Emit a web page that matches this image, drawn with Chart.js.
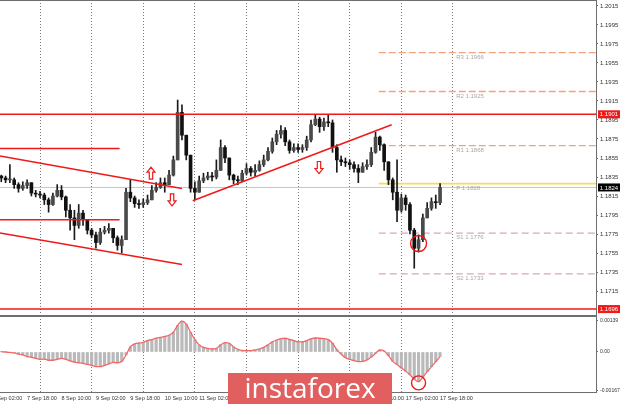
<!DOCTYPE html>
<html>
<head>
<meta charset="utf-8">
<script src="https://cdn.jsdelivr.net/npm/chart.js@4.4.0/dist/chart.umd.min.js"></script>
<style>
  html, body { margin: 0; padding: 0; background: #fff; }
  #wrap { position: relative; width: 620px; height: 404px; overflow: hidden; }
  #mainChart { position: absolute; left: 0; top: 0; }
  #oscChart { position: absolute; left: 0; top: 316px; }
  #logo {
    position: absolute; left: 228px; top: 373px; width: 164px; height: 31px;
    background: #e15f5f; color: #fff; text-align: center;
    font: 28px 'Open Sans', sans-serif; line-height: 29px;
  }
</style>
</head>
<body>
<div id="wrap">
  <canvas id="mainChart" width="620" height="316"></canvas>
  <canvas id="oscChart" width="620" height="88"></canvas>
  <div id="logo">instaforex</div>
</div>
<script>
// EUR/USD, 7-17 Sep, 2-hour bars
// x = trading hours counted from 8 Sep 00:00 (weekend removed)

const barHours = [];
for (let h = -18; h <= 186; h += 2) barHours.push(h);

const firstOpen = 1.1836;
const closes = [
  1.1834, 1.1832, 1.1832, 1.1827, 1.1823, 1.1826, 1.1829, 1.1818, 1.1817, 1.1816,
  1.1811, 1.1806, 1.1815, 1.1821, 1.1814, 1.1800, 1.1792, 1.1784, 1.1797, 1.1790,
  1.1779, 1.1774, 1.1766, 1.1777, 1.1779, 1.1781, 1.1771, 1.1763, 1.1769, 1.1819,
  1.1813, 1.1807, 1.1806, 1.1808, 1.1811, 1.1821, 1.1824, 1.1829, 1.1827, 1.1837,
  1.1853, 1.1903, 1.1879, 1.1858, 1.1823, 1.1819, 1.1831, 1.1834, 1.1836, 1.1835,
  1.1842, 1.1866, 1.1855, 1.1837, 1.1832, 1.1831, 1.1839, 1.1844, 1.1840, 1.1842,
  1.1848, 1.1853, 1.1862, 1.1872, 1.1880, 1.1884, 1.1872, 1.1863, 1.1866, 1.1864,
  1.1866, 1.1874, 1.1890, 1.1896, 1.1888, 1.1893, 1.1892, 1.1866, 1.1853, 1.1851,
  1.1850, 1.1848, 1.1844, 1.1840, 1.1846, 1.1848, 1.1861, 1.1877, 1.1869, 1.1851,
  1.1832, 1.1819, 1.1800, 1.1813, 1.1806, 1.1779, 1.1760, 1.1769, 1.1792, 1.1802,
  1.1809, 1.1808, 1.1824
];
const highs = [
  1.1837, 1.1836, 1.1848, 1.1834, 1.1829, 1.1830, 1.1832, 1.1829, 1.1821, 1.1820,
  1.1818, 1.1813, 1.1818, 1.1827, 1.1826, 1.1815, 1.1806, 1.1800, 1.1806, 1.1800,
  1.1790, 1.1781, 1.1777, 1.1781, 1.1783, 1.1786, 1.1781, 1.1773, 1.1773, 1.1823,
  1.1832, 1.1815, 1.1811, 1.1812, 1.1816, 1.1826, 1.1829, 1.1834, 1.1834, 1.1842,
  1.1857, 1.1916, 1.1911, 1.1879, 1.1858, 1.1830, 1.1836, 1.1839, 1.1840, 1.1840,
  1.1853, 1.1874, 1.1868, 1.1855, 1.1838, 1.1836, 1.1842, 1.1849, 1.1846, 1.1848,
  1.1852, 1.1858, 1.1866, 1.1876, 1.1884, 1.1889, 1.1887, 1.1874, 1.1870, 1.1870,
  1.1869, 1.1878, 1.1895, 1.1901, 1.1898, 1.1897, 1.1900, 1.1895, 1.1869, 1.1857,
  1.1855, 1.1853, 1.1851, 1.1848, 1.1850, 1.1853, 1.1866, 1.1882, 1.1878, 1.1870,
  1.1851, 1.1834, 1.1853, 1.1817, 1.1816, 1.1808, 1.1781, 1.1774, 1.1796, 1.1808,
  1.1813, 1.1816, 1.1828
];
const lows = [
  1.1830, 1.1829, 1.1829, 1.1823, 1.1819, 1.1821, 1.1823, 1.1815, 1.1814, 1.1813,
  1.1806, 1.1798, 1.1805, 1.1814, 1.1811, 1.1793, 1.1779, 1.1769, 1.1781, 1.1784,
  1.1775, 1.1771, 1.1760, 1.1764, 1.1775, 1.1776, 1.1766, 1.1758, 1.1755, 1.1769,
  1.1809, 1.1803, 1.1802, 1.1803, 1.1806, 1.1811, 1.1819, 1.1823, 1.1819, 1.1827,
  1.1836, 1.1853, 1.1874, 1.1853, 1.1819, 1.1811, 1.1819, 1.1829, 1.1832, 1.1831,
  1.1833, 1.1842, 1.1850, 1.1832, 1.1828, 1.1827, 1.1830, 1.1837, 1.1836, 1.1836,
  1.1841, 1.1846, 1.1852, 1.1860, 1.1869, 1.1876, 1.1868, 1.1860, 1.1861, 1.1861,
  1.1861, 1.1863, 1.1872, 1.1889, 1.1882, 1.1884, 1.1888, 1.1861, 1.1840, 1.1847,
  1.1846, 1.1843, 1.1840, 1.1829, 1.1840, 1.1843, 1.1846, 1.1860, 1.1863, 1.1842,
  1.1827, 1.1811, 1.1788, 1.1798, 1.1800, 1.1775, 1.1739, 1.1756, 1.1767, 1.1792,
  1.1800, 1.1802, 1.1806
];

// oscillator panel (histogram + signal)
const oscValues = [
  0.00001, 0.00000, -0.00002, -0.00004, -0.00009, -0.00013, -0.00020, -0.00023, -0.00028, -0.00032,
  -0.00031, -0.00036, -0.00036, -0.00032, -0.00028, -0.00032, -0.00039, -0.00044, -0.00047, -0.00050,
  -0.00054, -0.00058, -0.00064, -0.00064, -0.00058, -0.00052, -0.00045, -0.00047, -0.00042, -0.00013,
  0.00022, 0.00035, 0.00039, 0.00042, 0.00050, 0.00054, 0.00060, 0.00064, 0.00068, 0.00073,
  0.00086, 0.00116, 0.00135, 0.00122, 0.00086, 0.00054, 0.00031, 0.00020, 0.00016, 0.00013,
  0.00016, 0.00031, 0.00041, 0.00038, 0.00022, 0.00012, 0.00007, 0.00006, 0.00006, 0.00009,
  0.00013, 0.00020, 0.00031, 0.00044, 0.00052, 0.00058, 0.00060, 0.00055, 0.00050, 0.00044,
  0.00044, 0.00050, 0.00057, 0.00061, 0.00060, 0.00058, 0.00054, 0.00038, 0.00010, -0.00009,
  -0.00025, -0.00032, -0.00038, -0.00042, -0.00041, -0.00035, -0.00022, -0.00006, 0.00009, 0.00004,
  -0.00016, -0.00041, -0.00055, -0.00070, -0.00083, -0.00099, -0.00119, -0.00130, -0.00109, -0.00086,
  -0.00064, -0.00042, -0.00020
];

// axes
const tickHours = [-22, -6, 10, 26, 42, 58, 74, 90, 106, 122, 138, 154, 170, 186];
const tickLabels = ['7 Sep 02:00', '7 Sep 18:00', '8 Sep 10:00', '9 Sep 02:00', '9 Sep 18:00',
  '10 Sep 10:00', '11 Sep 02:00', '11 Sep 18:00', '14 Sep 10:00', '15 Sep 02:00',
  '15 Sep 18:00', '16 Sep 10:00', '17 Sep 02:00', '17 Sep 18:00'];
const dayLines = [0, 24, 48, 72, 96, 120, 144, 168, 192];
const priceTicks = [1.2015, 1.1995, 1.1975, 1.1955, 1.1935, 1.1915, 1.1895, 1.1875, 1.1855,
  1.1835, 1.1815, 1.1795, 1.1775, 1.1755, 1.1735, 1.1715];
const oscTicks = [0.00139, 0, -0.00167];

// levels and drawings
const resistance = 1.1901;
const support = 1.1696;
const lastPrice = 1.1824;
const pivotNames = ['R3', 'R2', 'R1', 'P', 'S1', 'S2'];
const pivotValues = [1.1966, 1.1925, 1.1868, 1.1828, 1.1776, 1.1733];
const PIVOT_FROM = 157.5;
const PIVOT_LABEL_AT = 193.5;

const X_MIN = -18.6, X_MAX = 258.5;
const PRICE_TOP = 1.20213, PRICE_BOTTOM = 1.16887;
const OSC_TOP = 0.00157, OSC_BOTTOM = -0.00179;

const upperChannel = [{ x: X_MIN, y: 1.1857 }, { x: 66, y: 1.1823 }];
const lowerChannel = [{ x: X_MIN, y: 1.1776 }, { x: 66, y: 1.1743 }];
const upperShelf = [{ x: X_MIN, y: 1.1865 }, { x: 37, y: 1.1865 }];
const lowerShelf = [{ x: X_MIN, y: 1.1790 }, { x: 37, y: 1.1790 }];
const risingLine = [{ x: 71, y: 1.1810 }, { x: 163.5, y: 1.1890 }];
const arrowMarks = [
  { x: 51.6, y: 1.1839, dir: 'up' },
  { x: 61.4, y: 1.1811, dir: 'down' },
  { x: 129.7, y: 1.1845, dir: 'down' }
];
const priceLow = { x: 176, y: 1.1765 };
const oscLow = { x: 176, y: -0.00135 };

const RED = '#f01818';
const FONT = "'Liberation Sans', Arial, sans-serif";
Chart.defaults.font.family = FONT;
Chart.defaults.color = '#333';

const opens = [firstOpen].concat(closes.slice(0, -1));
const wickData = barHours.map((h, i) => ({ x: h, y: [lows[i], highs[i]] }));
const bodyData = barHours.map((h, i) => ({ x: h, y: [opens[i], closes[i]] }));
const bodyColors = closes.map((c, i) => c >= opens[i] ? '#4a4a4a' : '#111');

function lineSet(points, color, width, dash, order) {
    return {
        type: 'line', data: points, borderColor: color, borderWidth: width,
        borderDash: dash || [], pointRadius: 0, fill: false, order: order,
        xAxisID: 'x', yAxisID: 'y'
    };
}

function fullWidth(v) {
    return [{ x: X_MIN, y: v }, { x: X_MAX, y: v }];
}

function drawArrow(ctx, cx, cy, dir) {
    const h = 12, w = 8, head = 5, shaft = 3.4;
    const s = dir === 'up' ? -1 : 1;
    const tipY = cy + s * h / 2, baseY = cy - s * h / 2, neckY = tipY - s * head;
    ctx.beginPath();
    ctx.moveTo(cx, tipY);
    ctx.lineTo(cx + w / 2, neckY);
    ctx.lineTo(cx + shaft / 2, neckY);
    ctx.lineTo(cx + shaft / 2, baseY);
    ctx.lineTo(cx - shaft / 2, baseY);
    ctx.lineTo(cx - shaft / 2, neckY);
    ctx.lineTo(cx - w / 2, neckY);
    ctx.closePath();
    ctx.fillStyle = '#fff';
    ctx.fill();
    ctx.strokeStyle = RED;
    ctx.lineWidth = 1.2;
    ctx.stroke();
}

// frame round the plot area
const frame = {
    id: 'frame',
    afterDraw(chart) {
        const { ctx, chartArea: a } = chart;
        ctx.save();
        ctx.strokeStyle = '#6e6e6e';
        ctx.lineWidth = 1;
        ctx.beginPath();
        ctx.moveTo(0, a.top + 0.5); ctx.lineTo(a.right + 0.5, a.top + 0.5);
        ctx.moveTo(a.right + 0.5, a.top); ctx.lineTo(a.right + 0.5, a.bottom);
        ctx.moveTo(0, a.bottom - 0.5); ctx.lineTo(a.right + 0.5, a.bottom - 0.5);
        ctx.stroke();
        ctx.restore();
    }
};

// time captions under the lower panel, left edge on the bar like MT4 does
const timeLabels = {
    id: 'timeLabels',
    afterDraw(chart) {
        const { ctx, chartArea: a, scales: { x } } = chart;
        ctx.save();
        ctx.font = '5.5px ' + FONT;
        ctx.fillStyle = '#333';
        ctx.textAlign = 'left';
        ctx.textBaseline = 'top';
        tickHours.forEach((h, i) => ctx.fillText(tickLabels[i], x.getPixelForValue(h), a.bottom + 3));
        ctx.restore();
    }
};

// arrows, pivot captions, price tags on the axis
const markers = {
    id: 'markers',
    afterDatasetsDraw(chart) {
        const { ctx, scales: { x, y } } = chart;
        ctx.save();
        arrowMarks.forEach(m => drawArrow(ctx, x.getPixelForValue(m.x), y.getPixelForValue(m.y), m.dir));
        ctx.font = '6px ' + FONT;
        ctx.fillStyle = '#a8a8a8';
        ctx.textAlign = 'left';
        ctx.textBaseline = 'top';
        pivotNames.forEach((n, i) => {
            ctx.fillText(n + ' ' + pivotValues[i].toFixed(4),
                x.getPixelForValue(PIVOT_LABEL_AT), y.getPixelForValue(pivotValues[i]) + 1.5);
        });
        ctx.restore();
    },
    afterDraw(chart) {
        const { ctx, chartArea: a, scales: { y } } = chart;
        const tags = [
            { v: resistance, bg: RED },
            { v: support, bg: RED },
            { v: lastPrice, bg: '#000' }
        ];
        ctx.save();
        ctx.font = '6px ' + FONT;
        ctx.textAlign = 'center';
        ctx.textBaseline = 'middle';
        tags.forEach(t => {
            const py = y.getPixelForValue(t.v);
            ctx.fillStyle = t.bg;
            ctx.fillRect(a.right + 2, py - 4, 620 - a.right - 2, 8);
            ctx.fillStyle = '#fff';
            ctx.fillText(t.v.toFixed(4), a.right + 2 + (620 - a.right - 2) / 2, py + 0.5);
        });
        ctx.restore();
    }
};

function dayGrid() {
    return {
        type: 'linear', axis: 'x', position: 'bottom', min: X_MIN, max: X_MAX, offset: false,
        afterBuildTicks: s => { s.ticks = dayLines.map(v => ({ value: v })); },
        ticks: { display: false },
        grid: { color: '#7a7a7a', lineWidth: 1, drawTicks: false, offset: false },
        border: { display: false, dash: [1, 2] },
        afterFit: s => { s.height = 0; s.paddingLeft = 0; s.paddingRight = 0; }
    };
}

function rightAxis(min, max, ticks, fmt, size) {
    return {
        type: 'linear', position: 'right', min: min, max: max,
        afterBuildTicks: s => { s.ticks = ticks.map(v => ({ value: v })); },
        ticks: { font: { size: size }, color: '#333', padding: 2, autoSkip: false, callback: fmt },
        grid: { drawOnChartArea: false, drawTicks: true, tickLength: 2, color: '#6e6e6e' },
        border: { display: false },
        afterFit: s => { s.width = 24; s.paddingTop = 0; s.paddingBottom = 0; }
    };
}

const baseOptions = (bottomSpace) => ({
    responsive: false,
    animation: false,
    devicePixelRatio: 1,
    layout: { padding: { left: 0, right: 0, top: 0, bottom: bottomSpace }, autoPadding: false },
    plugins: { legend: { display: false }, tooltip: { enabled: false } }
});

const mainOptions = baseOptions(0);
mainOptions.scales = {
    x: { type: 'linear', display: false, min: X_MIN, max: X_MAX, offset: false },
    days: dayGrid(),
    y: rightAxis(PRICE_BOTTOM, PRICE_TOP, priceTicks, v => v.toFixed(4), 6)
};

const mainChart = new Chart(document.getElementById('mainChart'), {
    type: 'bar',
    data: {
        datasets: [
            lineSet(fullWidth(lastPrice), '#c4c4c4', 1, null, 9),
            lineSet([{ x: PIVOT_FROM, y: pivotValues[0] }, { x: X_MAX, y: pivotValues[0] }], '#f4a27c', 1.3, [7, 3], 8),
            lineSet([{ x: PIVOT_FROM, y: pivotValues[1] }, { x: X_MAX, y: pivotValues[1] }], '#f4a27c', 1.3, [7, 3], 8),
            lineSet([{ x: PIVOT_FROM, y: pivotValues[2] }, { x: X_MAX, y: pivotValues[2] }], '#f4a27c', 1.3, [7, 3], 8),
            lineSet([{ x: PIVOT_FROM, y: pivotValues[3] }, { x: X_MAX, y: pivotValues[3] }], '#f2de5c', 1.6, null, 8),
            lineSet([{ x: PIVOT_FROM, y: pivotValues[4] }, { x: X_MAX, y: pivotValues[4] }], '#dda6ac', 1.3, [7, 4], 8),
            lineSet([{ x: PIVOT_FROM, y: pivotValues[5] }, { x: X_MAX, y: pivotValues[5] }], '#dda6ac', 1.3, [7, 4], 8),
            {
                label: 'wick', data: wickData, backgroundColor: '#1a1a1a',
                barThickness: 1, grouped: false, order: 6, xAxisID: 'x', yAxisID: 'y'
            },
            {
                label: 'body', data: bodyData, backgroundColor: bodyColors,
                barThickness: 3, minBarLength: 1, grouped: false, order: 5, xAxisID: 'x', yAxisID: 'y'
            },
            lineSet(fullWidth(resistance), RED, 1.6, null, 2),
            lineSet(fullWidth(support), RED, 1.6, null, 2),
            lineSet(upperChannel, RED, 1.5, null, 2),
            lineSet(lowerChannel, RED, 1.5, null, 2),
            lineSet(upperShelf, RED, 1.5, null, 2),
            lineSet(lowerShelf, RED, 1.5, null, 2),
            lineSet(risingLine, RED, 1.5, null, 2),
            {
                type: 'line', data: [priceLow], showLine: false, pointRadius: 8,
                pointBorderColor: RED, pointBackgroundColor: 'rgba(0,0,0,0)', pointBorderWidth: 1.4,
                order: 1, xAxisID: 'x', yAxisID: 'y'
            }
        ]
    },
    options: mainOptions,
    plugins: [frame, markers]
});

const oscOptions = baseOptions(11);
oscOptions.scales = {
    x: { type: 'linear', display: false, min: X_MIN, max: X_MAX, offset: false },
    days: dayGrid(),
    y: rightAxis(OSC_BOTTOM, OSC_TOP, oscTicks, v => v === 0 ? '0.00' : v.toFixed(5), 5)
};

const oscChart = new Chart(document.getElementById('oscChart'), {
    type: 'bar',
    data: {
        datasets: [
            {
                type: 'line', data: [oscLow], showLine: false, pointRadius: 7,
                pointBorderColor: RED, pointBackgroundColor: 'rgba(0,0,0,0)', pointBorderWidth: 1.4,
                order: 1, xAxisID: 'x', yAxisID: 'y'
            },
            {
                type: 'line', data: barHours.map((h, i) => ({ x: h, y: oscValues[i] })),
                borderColor: '#f26868', borderWidth: 1.3, pointRadius: 0, cubicInterpolationMode: 'monotone',
                order: 2, xAxisID: 'x', yAxisID: 'y'
            },
            {
                data: barHours.map((h, i) => ({ x: h, y: oscValues[i] })),
                backgroundColor: '#b9b9b9', barThickness: 2.5, grouped: false,
                order: 3, xAxisID: 'x', yAxisID: 'y'
            }
        ]
    },
    options: oscOptions,
    plugins: [frame, timeLabels]
});
</script>
</body>
</html>
